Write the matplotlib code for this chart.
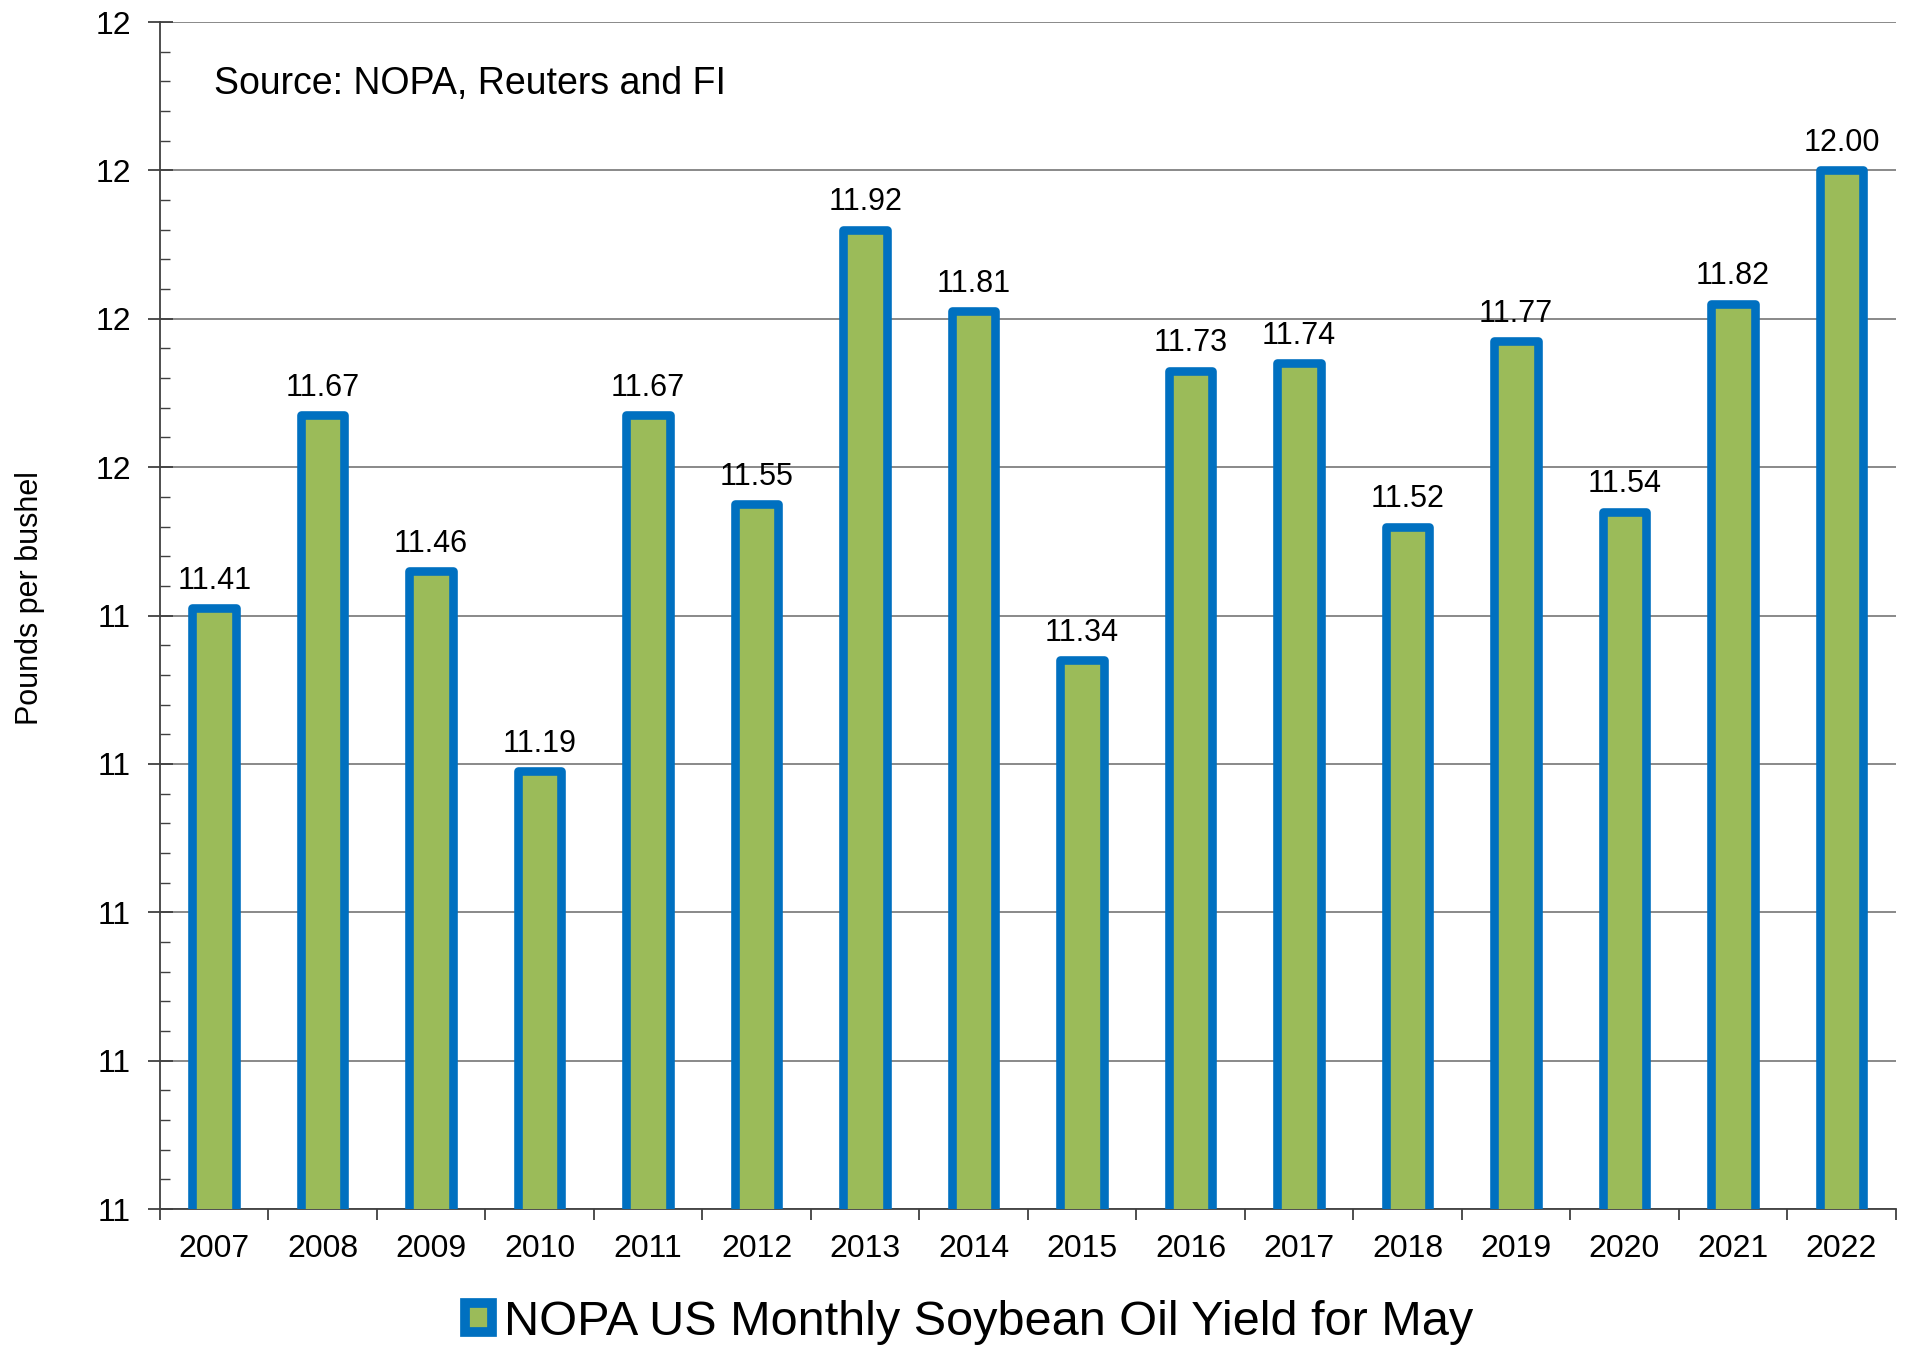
import numpy as np
import matplotlib.pyplot as plt
from matplotlib.patches import Patch
from matplotlib.ticker import MultipleLocator, FormatStrFormatter

plt.rcParams['font.family'] = ['Liberation Sans', 'DejaVu Sans']

### data
years = ['2007', '2008', '2009', '2010', '2011', '2012', '2013', '2014',
         '2015', '2016', '2017', '2018', '2019', '2020', '2021', '2022']
oil_yield = [11.41, 11.67, 11.46, 11.19, 11.67, 11.55, 11.92, 11.81,
             11.34, 11.73, 11.74, 11.52, 11.77, 11.54, 11.82, 12.00]

green = '#9BBB59'
blue = '#0070C0'
grid_grey = '#808080'

fig = plt.figure(figsize=(19.11, 13.45), dpi=100)
ax = fig.add_axes([0.0837, 0.1011, 0.9083, 0.8825])

x = np.arange(len(years))
bars = ax.bar(x, oil_yield, width=0.4, color=green, edgecolor=blue,
              linewidth=6.2, joinstyle='round', zorder=3)

### value labels above bars
for xi, v in zip(x, oil_yield):
    ax.annotate('%.2f' % v, xy=(xi, v), xytext=(0, 9), textcoords='offset points',
                ha='center', va='bottom', fontsize=22)

ax.set_xlim(-0.5, len(years) - 0.5)
ax.set_ylim(10.6, 12.2)
ax.yaxis.set_major_locator(MultipleLocator(0.2))
ax.yaxis.set_minor_locator(MultipleLocator(0.04))
ax.yaxis.set_major_formatter(FormatStrFormatter('%.0f'))
ax.grid(axis='y', which='major', color=grid_grey, linewidth=1.3, zorder=0)
ax.set_axisbelow(True)

### category ticks at boundaries, labels centred
ax.set_xticks(np.arange(len(years) + 1) - 0.5)
ax.set_xticklabels([])
ax.set_xticks(x, minor=True)
ax.set_xticklabels(years, minor=True, fontsize=23)
ax.tick_params(axis='x', which='major', direction='out', length=8, width=1.3, color='#404040')
ax.tick_params(axis='x', which='minor', length=0, pad=18)
ax.tick_params(axis='y', which='major', direction='inout', length=18, width=1.3,
               color='#404040', labelsize=23, pad=12)
ax.tick_params(axis='y', which='minor', direction='in', length=7, width=1.0, color='#404040')

for s in ['top', 'right']:
    ax.spines[s].set_visible(False)
for s in ['left', 'bottom']:
    ax.spines[s].set_color('#404040')
    ax.spines[s].set_linewidth(1.3)

ax.set_ylabel('Pounds per bushel', fontsize=22)
ax.yaxis.set_label_coords(-0.0665, 0.515)

ax.text(0.031, 0.948, 'Source: NOPA, Reuters and FI', transform=ax.transAxes,
        fontsize=27, va='center', ha='left')

handle = Patch(facecolor=green, edgecolor=blue, linewidth=7, joinstyle='round')
fig.legend([handle], ['NOPA US Monthly Soybean Oil Yield for May'],
           loc='center', bbox_to_anchor=(0.507, 0.017), frameon=False,
           fontsize=35, handlelength=0.55, handleheight=0.55, handletextpad=0.25)

plt.savefig('out.png', dpi=100)
